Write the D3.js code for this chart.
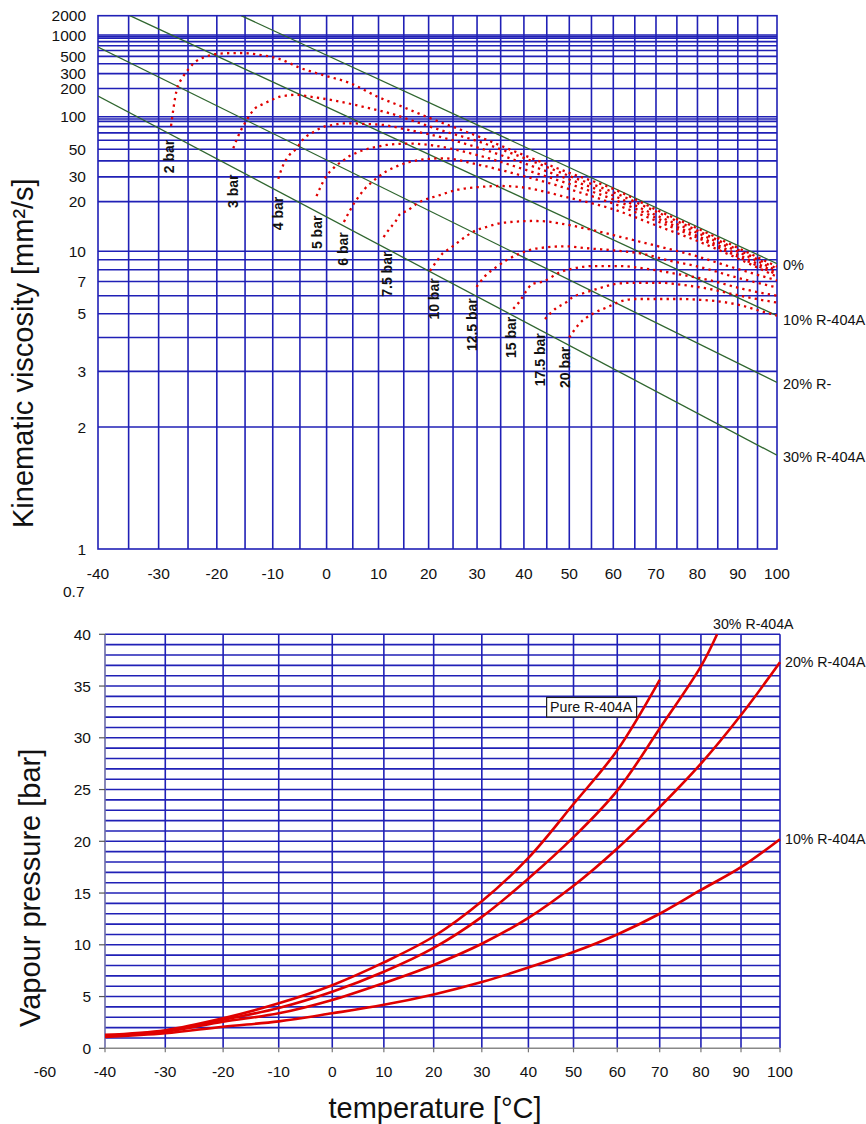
<!DOCTYPE html>
<html><head><meta charset="utf-8">
<script src="https://cdn.jsdelivr.net/npm/d3@7"></script>
<style>body{margin:0;background:#fff} svg{display:block} text{font-family:Arial,"Liberation Sans",sans-serif;fill:#111}</style>
</head><body><svg id="c" width="866" height="1124"></svg>
<script>
// ---------- DATA ----------
const TEMP_LABELS = [-40,-30,-20,-10,0,10,20,30,40,50,60,70,80,90,100];
const TEMP_GRID_TOP = [-35,-30,-25,-20,-15,-10,-5,0,5,10,15,20,25,30,35,40,45,50,55,60,65,70,75,80,85,90,95];
const TEMP_GRID_BOT = [-30,-20,-10,0,10,20,30,40,50,60,70,80,90];
const VISC_LABELS = [2000,1000,500,300,200,100,50,30,20,10,7,5,3,2,1];
const VISC_GRID = [1000,950,900,800,700,600,500,400,300,200,100,95,90,80,70,60,50,40,30,20,10,9,8,7,6,5,4,3,2];
const PRESS_LABELS = [0,5,10,15,20,25,30,35,40];

// oil/refrigerant viscosity lines (temperature °C, viscosity mm²/s)
const oil0  = [[-15.7,2000],[100,8.6]];
const oil10 = [[-34.8,2000],[100,4.9]];
const oil20 = [[-40,670],[100,2.75]];
const oil30 = [[-40,165],[100,1.67]];
const oilNames = ["0%","10% R-404A","20% R-","30% R-404A"];

// isobars (temperature °C, viscosity mm²/s)
const iso2  = [[-27.9,81],[-27.0,185],[-25.9,272],[-24.8,350],[-23.8,420],[-21.9,495],[-19.5,545],[-16,555],[-12.4,525],[-8.7,460],[-5,355],[-0.8,290],[4.4,232],[10,160],[14.8,126],[20,98],[30,65.5],[40,44.6],[50,32.2],[60,24.5],[70,17.7],[80,13.5],[90,10.45],[100,8.3]];
const iso3  = [[-17.1,51],[-15.9,71],[-15,87],[-14.1,105],[-13.1,123],[-12,133],[-11,142],[-9.8,153],[-8.7,162],[-7.4,167],[-5.9,170],[-3.1,162],[1.8,146],[6.8,127],[12.3,108],[17.4,89],[22.5,74],[30,59],[40,42.3],[50,30.5],[60,23.2],[70,17.2],[80,13.1],[90,10.2],[100,8.1]];
const iso4  = [[-9.0,29],[-8.1,37],[-6.9,45],[-5.6,51],[-4.8,58],[-3.8,65],[-2.9,69],[-1.7,75],[-0.1,81],[1.2,83],[3.1,86],[5.1,86],[7.1,85],[11,83],[15,76],[20,68],[30,52],[40,38.3],[50,28.7],[60,22],[70,16.3],[80,12.7],[90,9.95],[100,7.9]];
const iso5  = [[-1.9,21.8],[-1.0,26],[-0.1,30.3],[1.0,34],[1.9,37],[3.1,40],[4.2,43.5],[5.4,46],[7.0,49],[8.4,51],[9.7,52.5],[11.6,54.5],[13.6,55.5],[16.5,56],[20,54.5],[30,44.7],[40,34.3],[50,26.6],[60,20.7],[70,15.7],[80,12.2],[90,9.6],[100,7.73]];
const iso6  = [[3.3,14.8],[4.3,17.1],[5.3,19.6],[6.3,22],[7.3,24.5],[8.7,27.4],[10.1,30.3],[11.6,33.2],[13.3,35.8],[16.5,39.5],[20,41.5],[23,42],[30,37.5],[40,30.4],[50,24.4],[60,19.4],[70,15.05],[80,11.9],[90,9.35],[100,7.56]];
const iso75 = [[11.0,12],[12.2,13.5],[13.3,14.8],[14.2,16.5],[15.5,17.3],[18.1,19.8],[22,22],[26,24.2],[30.6,25.3],[35,25.7],[39,25.3],[50,21.2],[60,17.8],[70,14.1],[80,11.4],[90,9.15],[100,7.38]];
const iso10 = [[20.3,7.9],[21.7,8.9],[22.8,9.7],[24.2,10.3],[26,11.2],[27.8,12.2],[29.9,13.2],[32.1,13.8],[34.2,14.4],[36.3,14.7],[39,14.9],[41.9,15.0],[44.9,14.9],[47.8,14.5],[55.3,13.2],[63.1,11.8],[70.9,10.6],[79.1,9.5],[87.2,8.4],[100,7.08]];
const iso125= [[29.9,6.6],[31.6,7.4],[33.9,8.2],[36.4,9.0],[39,9.7],[43.2,10.4],[49.3,10.65],[53.8,10.4],[60.3,10.1],[66.7,9.7],[73.3,8.9],[80.7,8.25],[88.8,7.4],[100,6.56]];
const iso15 = [[37.7,5.25],[39.2,5.7],[40.5,6.3],[41.8,6.8],[44.3,7.0],[47.8,7.75],[50.7,8.1],[55.3,8.35],[61.6,8.35],[67.5,8.1],[75,7.62],[83,7.1],[91.3,6.45],[100,6.0]];
const iso175= [[44.6,4.75],[46.9,5.25],[49.3,5.6],[50.7,5.9],[53.6,6.2],[56.8,6.5],[60.3,6.8],[64.4,6.9],[70.8,6.9],[77.4,6.7],[83,6.45],[88.8,6.1],[94.7,5.8],[100,5.59]];
const iso20 = [[50,4.0],[52.3,4.55],[55.3,5.0],[58.8,5.35],[61.6,5.65],[65.2,5.8],[70.8,5.8],[75.7,5.8],[80.7,5.75],[85.5,5.65],[90.5,5.45],[95.5,5.15],[100,4.91]];
const isoNames = ["2 bar","3 bar","4 bar","5 bar","6 bar","7.5 bar","10 bar","12.5 bar","15 bar","17.5 bar","20 bar"];
// label anchor (temperature, viscosity)
const isoLabelPos = [[-28.3,43.5],[-17.2,23.6],[-9.1,16.7],[-1.9,12.8],[3.1,10.3],[11.7,7.6],[21,5.8],[29,4.5],[37.3,4.0],[43.6,3.3],[49,3.1]];

// vapour pressure (temperature °C, bar)
const vpTemps = [-40,-30,-20,-10,0,10,20,30,40,50,60,70,80,90,100];
const vpPure = [1.3,1.75,2.9,4.35,6.1,8.3,10.8,14.2,18.4,23.6,28.8,35.6];
const vp30   = [1.25,1.67,2.75,3.9,5.47,7.4,9.7,12.7,16.4,20.4,24.9,30.9,36.9];
const vp30End = [84,40];
const vp20   = [1.2,1.6,2.57,3.38,4.67,6.3,8.05,10.1,12.6,15.7,19.3,23.3,27.5,32.2,37.3];
const vp10   = [1.1,1.45,2.09,2.6,3.38,4.2,5.2,6.4,7.8,9.3,11.0,13.0,15.3,17.5,20.2];

// ---------- DRAW ----------
(function(){
const svg = d3.select("#c");
const BLUE = "#2020b6", GREEN = "#2f662f", RED = "#e00000";
const K = 273.15;
// ASTM D341 transform
const wz = v => Math.log10(v + 0.7 + Math.exp(-1.47 - 1.84*v - 0.51*v*v));

const xT = d3.scaleLog().domain([-40+K, 100+K]).range([98, 777]);
const yT = d3.scaleLog().domain([wz(1), wz(2000)]).range([549, 15.7]);
const X1 = t => xT(t + K), Y1 = v => yT(wz(v));

const gTop = svg.append("g");
gTop.selectAll(".hg").data(VISC_GRID).join("line")
  .attr("x1", X1(-40)).attr("x2", X1(100)).attr("y1", d=>Y1(d)).attr("y2", d=>Y1(d))
  .attr("stroke", BLUE).attr("stroke-width", 1.6);
gTop.selectAll(".vg").data(TEMP_GRID_TOP).join("line")
  .attr("x1", d=>X1(d)).attr("x2", d=>X1(d)).attr("y1", Y1(2000)).attr("y2", Y1(1))
  .attr("stroke", BLUE).attr("stroke-width", 1.6);
gTop.append("rect").attr("x", X1(-40)).attr("y", Y1(2000)).attr("width", X1(100)-X1(-40)).attr("height", Y1(1)-Y1(2000))
  .attr("fill","none").attr("stroke", BLUE).attr("stroke-width", 1.6);

gTop.selectAll(".yl").data(VISC_LABELS).join("text")
  .attr("x", 86).attr("y", d=>Y1(d)).attr("dy","0.36em").attr("text-anchor","end")
  .attr("font-size", 15.5).text(d=>d);
gTop.selectAll(".xl").data(TEMP_LABELS).join("text")
  .attr("x", d=>X1(d)).attr("y", 579).attr("text-anchor","middle")
  .attr("font-size", 15.5).text(d=>d);
gTop.append("text").attr("x", 63).attr("y", 597).attr("font-size", 15.5).text("0.7");

svg.append("defs").append("clipPath").attr("id","clipTop").append("rect")
  .attr("x", X1(-40)).attr("y", Y1(2000)).attr("width", X1(100)-X1(-40)).attr("height", Y1(1)-Y1(2000));

const lineTop = d3.line().x(d=>X1(d[0])).y(d=>Y1(d[1]));
const oils = [oil0, oil10, oil20, oil30];
const gp = gTop.append("g").attr("clip-path","url(#clipTop)");
gp.selectAll(".oil").data(oils).join("path")
  .attr("d", lineTop).attr("fill","none").attr("stroke", GREEN).attr("stroke-width", 1.3);

const isos = [iso2, iso3, iso4, iso5, iso6, iso75, iso10, iso125, iso15, iso175, iso20];
const lineIso = d3.line().x(d=>X1(d[0])).y(d=>Y1(d[1])).curve(d3.curveMonotoneX);
gp.selectAll(".iso").data(isos).join("path")
  .attr("d", lineIso).attr("fill","none").attr("stroke", RED).attr("stroke-width", 2.3)
  .attr("stroke-dasharray","2.3 4.2");

gTop.selectAll(".isol").data(isoNames).join("text")
  .attr("transform", (d,i)=>`translate(${X1(isoLabelPos[i][0])},${Y1(isoLabelPos[i][1])}) rotate(-90)`)
  .attr("text-anchor","middle").attr("dy","0.36em")
  .attr("font-size", 14).attr("font-weight","bold").text(d=>d);

gTop.selectAll(".oill").data(oilNames).join("text")
  .attr("x", X1(100)+6).attr("y", (d,i)=>Y1(oils[i][1][1]) + (i===1?4:1)).attr("dy","0.36em")
  .attr("font-size", 14.5).text(d=>d);

gTop.append("text").attr("transform","translate(33,528) rotate(-90)")
  .attr("font-size", 29).text("Kinematic viscosity [mm²/s]");

// ---------- bottom chart ----------
const xB = d3.scaleLog().domain([-40+K, 100+K]).range([105, 780]);
const yB = d3.scaleLinear().domain([0, 40]).range([1048.3, 634.3]);
const X2 = t => xB(t + K);
const gBot = svg.append("g");
gBot.selectAll(".hg").data(d3.range(1, 41)).join("line")
  .attr("x1", X2(-40)).attr("x2", X2(100)).attr("y1", d=>yB(d)).attr("y2", d=>yB(d))
  .attr("stroke", BLUE).attr("stroke-width", 1.6);
gBot.selectAll(".vg").data(TEMP_GRID_BOT.concat([100])).join("line")
  .attr("x1", d=>X2(d)).attr("x2", d=>X2(d)).attr("y1", yB(40)).attr("y2", yB(0))
  .attr("stroke", BLUE).attr("stroke-width", 1.6);
gBot.append("line").attr("x1", X2(-40)).attr("x2", X2(-40)).attr("y1", yB(40)).attr("y2", yB(0)).attr("stroke","#6a6aa8").attr("stroke-width",1.6);
gBot.append("line").attr("x1", X2(-40)).attr("x2", X2(100)).attr("y1", yB(0)).attr("y2", yB(0)).attr("stroke","#888").attr("stroke-width",1.6);
gBot.selectAll(".yt").data(PRESS_LABELS).join("line")
  .attr("x1", X2(-40)-6).attr("x2", X2(-40)).attr("y1", d=>yB(d)).attr("y2", d=>yB(d)).attr("stroke","#555").attr("stroke-width",1.2);
gBot.selectAll(".xt").data(TEMP_LABELS).join("line")
  .attr("x1", d=>X2(d)).attr("x2", d=>X2(d)).attr("y1", yB(0)).attr("y2", yB(0)+4).attr("stroke","#777").attr("stroke-width",1.2);
gBot.selectAll(".yl").data(PRESS_LABELS).join("text")
  .attr("x", 91).attr("y", d=>yB(d)).attr("dy","0.36em").attr("text-anchor","end")
  .attr("font-size", 15.5).text(d=>d);
gBot.selectAll(".xl").data(TEMP_LABELS).join("text")
  .attr("x", d=>X2(d)).attr("y", 1077).attr("text-anchor","middle")
  .attr("font-size", 15.5).text(d=>d);
gBot.append("text").attr("x", 45).attr("y", 1077).attr("text-anchor","middle").attr("font-size",15.5).text("-60");

const lineVP = d3.line().x(d=>X2(d[0])).y(d=>yB(d[1])).curve(d3.curveCatmullRom);
const sPure = vpPure.map((p,i)=>[vpTemps[i],p]);
const s30 = vp30.map((p,i)=>[vpTemps[i],p]).concat([vp30End]);
const s20 = vp20.map((p,i)=>[vpTemps[i],p]);
const s10 = vp10.map((p,i)=>[vpTemps[i],p]);
gBot.selectAll(".vp").data([s10, s20, s30, sPure]).join("path")
  .attr("d", lineVP).attr("fill","none").attr("stroke", RED).attr("stroke-width", 2.6);

gBot.append("text").attr("x", X2(84)-4).attr("y", yB(40)-5).attr("font-size",14.2).text("30% R-404A");
gBot.append("text").attr("x", X2(100)+5).attr("y", yB(37.3)).attr("dy","0.36em").attr("font-size",14.2).text("20% R-404A");
gBot.append("text").attr("x", X2(100)+5).attr("y", yB(20.2)).attr("dy","0.36em").attr("font-size",14.2).text("10% R-404A");
const bx = X2(44), by = yB(33.9);
gBot.append("rect").attr("x", bx).attr("y", by).attr("width", 90).attr("height", 19.5)
  .attr("fill","#fff").attr("stroke","#222").attr("stroke-width",1.2);
gBot.append("text").attr("x", bx+3.5).attr("y", by+15).attr("font-size",14.2).text("Pure R-404A");

gBot.append("text").attr("transform","translate(40,1027) rotate(-90)")
  .attr("font-size", 29).text("Vapour pressure [bar]");
gBot.append("text").attr("x", 435).attr("y", 1118).attr("text-anchor","middle")
  .attr("font-size", 29).text("temperature [°C]");
})();
</script></body></html>
